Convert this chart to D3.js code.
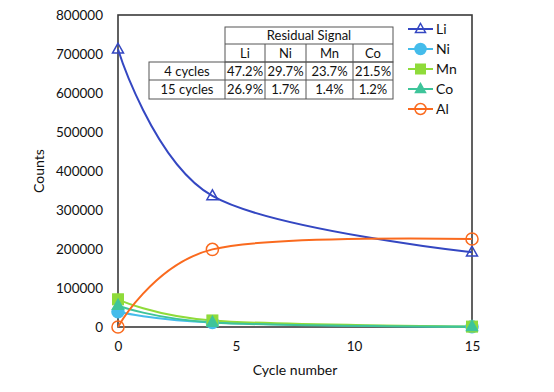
<!DOCTYPE html>
<html>
<head>
<meta charset="utf-8">
<script src="https://cdn.jsdelivr.net/npm/d3@7"></script>
<style>
  html, body { margin: 0; padding: 0; background: #fff; }
  svg { display: block; font-family: Lato, "Open Sans", sans-serif; }
</style>
</head>
<body>
<svg id="chart" width="554" height="392"></svg>
<script>
// ---- data ----
const cycles = [0, 4, 15];
const seriesNames = ["Li", "Ni", "Mn", "Co", "Al"];
const liValues = [712000, 336000, 191500];
const niValues = [39000, 11600, 660];
const mnValues = [71000, 16800, 990];
const coValues = [55000, 11800, 660];
const alValues = [0, 199000, 225500];
const yTicks = [0, 100000, 200000, 300000, 400000, 500000, 600000, 700000, 800000];
const xTicks = [0, 5, 10, 15];
const tableTitle = "Residual Signal";
const tableCols = ["Li", "Ni", "Mn", "Co"];
const tableRows = ["4 cycles", "15 cycles"];
const tableValues = [
  ["47.2%", "29.7%", "23.7%", "21.5%"],
  ["26.9%", "1.7%", "1.4%", "1.2%"]
];

// ---- styles ----
const styles = {
  Li: { color: "#3447C2", marker: "triangle", fill: "none" },
  Ni: { color: "#45BCEB", marker: "circle", fill: "fill" },
  Mn: { color: "#8FDB3A", marker: "square", fill: "fill" },
  Co: { color: "#3EC49A", marker: "triangle", fill: "fill" },
  Al: { color: "#FA6A1E", marker: "circle", fill: "none" }
};
const allValues = { Li: liValues, Ni: niValues, Mn: mnValues, Co: coValues, Al: alValues };
const textColor = "#111";

const svg = d3.select("#chart");
const x = d3.scaleLinear().domain([0, 15]).range([118, 472]);
const y = d3.scaleLinear().domain([0, 800000]).range([327, 15]);

// frame
svg.append("rect")
  .attr("x", x(0)).attr("y", y(800000))
  .attr("width", x(15) - x(0)).attr("height", y(0) - y(800000))
  .attr("fill", "none").attr("stroke", "#3a3a3a").attr("stroke-width", 1.6);

// y axis labels
const yAxis = d3.axisLeft(y).tickValues(yTicks).tickFormat(d3.format("d")).tickSize(0).tickPadding(15);
const gy = svg.append("g").attr("transform", `translate(${x(0)},0)`).call(yAxis);
gy.select(".domain").remove();
gy.selectAll("text").attr("font-size", 13.5).attr("fill", textColor).style("font-family", "Lato, sans-serif");

// x axis labels
const xAxis = d3.axisBottom(x).tickValues(xTicks).tickFormat(d3.format("d")).tickSize(0).tickPadding(14);
const gx = svg.append("g").attr("transform", `translate(0,${y(0)})`).call(xAxis);
gx.select(".domain").remove();
gx.selectAll("text").attr("font-size", 13.5).attr("fill", textColor).style("font-family", "Lato, sans-serif");

// axis titles
svg.append("text").attr("x", (x(0) + x(15)) / 2).attr("y", 375)
  .attr("text-anchor", "middle").attr("font-size", 14).attr("fill", textColor).text("Cycle number");
svg.append("text").attr("transform", `translate(44,${(y(0) + y(800000)) / 2}) rotate(-90)`)
  .attr("text-anchor", "middle").attr("font-size", 14).attr("fill", textColor).text("Counts");

// table
const colEdges = [225, 265, 306, 353, 393];
const rowEdges = [27, 44, 62, 80, 99];
const tableLeft = 149;
const tg = svg.append("g").attr("stroke", "#555").attr("stroke-width", 1);
tg.append("rect").attr("x", colEdges[0]).attr("y", rowEdges[0]).attr("width", colEdges[4] - colEdges[0]).attr("height", rowEdges[2] - rowEdges[0]).attr("fill", "none");
tg.append("line").attr("x1", colEdges[0]).attr("x2", colEdges[4]).attr("y1", rowEdges[1]).attr("y2", rowEdges[1]);
tg.append("rect").attr("x", tableLeft).attr("y", rowEdges[2]).attr("width", colEdges[4] - tableLeft).attr("height", rowEdges[4] - rowEdges[2]).attr("fill", "none");
tg.append("line").attr("x1", tableLeft).attr("x2", colEdges[4]).attr("y1", rowEdges[3]).attr("y2", rowEdges[3]);
tg.selectAll(".vline").data(colEdges.slice(1, 4)).enter().append("line")
  .attr("x1", d => d).attr("x2", d => d).attr("y1", rowEdges[1]).attr("y2", rowEdges[4]);
tg.append("line").attr("x1", colEdges[0]).attr("x2", colEdges[0]).attr("y1", rowEdges[2]).attr("y2", rowEdges[4]);

const tText = svg.append("g").attr("font-size", 13).attr("fill", textColor).attr("text-anchor", "middle");
tText.append("text").attr("x", (colEdges[0] + colEdges[4]) / 2).attr("y", (rowEdges[0] + rowEdges[1]) / 2 + 4.5).text(tableTitle);
tableCols.forEach((c, i) => {
  tText.append("text").attr("x", (colEdges[i] + colEdges[i + 1]) / 2).attr("y", (rowEdges[1] + rowEdges[2]) / 2 + 4.5).text(c);
});
tableRows.forEach((r, j) => {
  const cy = (rowEdges[2 + j] + rowEdges[3 + j]) / 2 + 4.5;
  tText.append("text").attr("x", (tableLeft + colEdges[0]) / 2).attr("y", cy).text(r);
  tableValues[j].forEach((v, i) => {
    tText.append("text").attr("x", (colEdges[i] + colEdges[i + 1]) / 2).attr("y", cy).text(v);
  });
});

// marker drawing
function drawMarker(g, type, cx, cy, st, size) {
  const fill = st.fill === "fill" ? st.color : "none";
  if (type === "circle") {
    g.append("circle").attr("cx", cx).attr("cy", cy).attr("r", size * 0.55)
      .attr("fill", fill).attr("stroke", st.color).attr("stroke-width", 1.5);
  } else if (type === "square") {
    g.append("rect").attr("x", cx - size / 2).attr("y", cy - size / 2).attr("width", size).attr("height", size)
      .attr("fill", fill).attr("stroke", st.color).attr("stroke-width", 1);
  } else {
    const h = size * 0.9;
    const pts = [[cx, cy - h * 0.62], [cx - size / 2, cy + h * 0.38], [cx + size / 2, cy + h * 0.38]];
    g.append("path").attr("d", "M" + pts.map(p => p.join(",")).join("L") + "Z")
      .attr("fill", fill).attr("stroke", st.color).attr("stroke-width", 1.5);
  }
}

// series
const line = d3.line().x((d, i) => x(cycles[i])).y(d => y(d)).curve(d3.curveCardinal.tension(0));
const sg = svg.append("g");
seriesNames.forEach(name => {
  const st = styles[name];
  sg.append("path").attr("d", line(allValues[name])).attr("fill", "none")
    .attr("stroke", st.color).attr("stroke-width", 2);
});
seriesNames.forEach(name => {
  const st = styles[name];
  allValues[name].forEach((v, i) => drawMarker(sg, st.marker, x(cycles[i]), y(v), st, 11));
});

// legend
const lg = svg.append("g");
seriesNames.forEach((name, i) => {
  const st = styles[name];
  const ly = 29 + i * 20;
  lg.append("line").attr("x1", 408).attr("x2", 433).attr("y1", ly).attr("y2", ly)
    .attr("stroke", st.color).attr("stroke-width", 2);
  drawMarker(lg, st.marker, 420.5, ly, st, 10);
  lg.append("text").attr("x", 436).attr("y", ly + 5).attr("font-size", 14).attr("fill", textColor).text(name);
});
</script>
</body>
</html>
